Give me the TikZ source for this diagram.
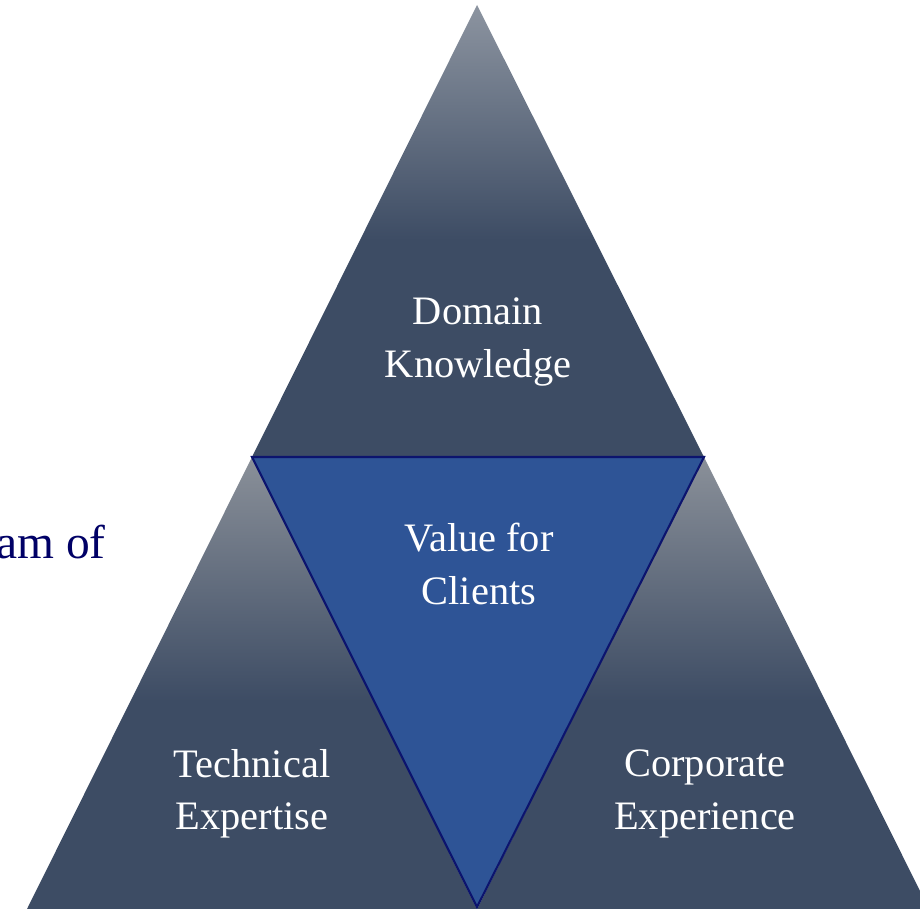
\documentclass[tikz,border=0pt]{standalone}
\usepackage{fontspec}
\setmainfont{Liberation Serif}
\usepackage{tikz}
\usetikzlibrary{calc}

\definecolor{slatedark}{RGB}{61,76,100}
\definecolor{slatelight}{RGB}{140,148,160}
\definecolor{sidelight}{RGB}{138,144,153}
\definecolor{clientblue}{RGB}{46,84,150}
\definecolor{rimnavy}{RGB}{12,20,110}
\definecolor{teamnavy}{RGB}{0,0,102}

\pgfdeclareverticalshading{topfade}{100bp}{color(0bp)=(slatedark); color(49bp)=(slatedark); color(75bp)=(slatelight); color(100bp)=(slatelight)}
\pgfdeclareverticalshading{sidefade}{100bp}{color(0bp)=(slatedark); color(48bp)=(slatedark); color(75bp)=(sidelight); color(100bp)=(sidelight)}

\def\tri[#1](#2)(#3)(#4) {\path[#1] (#2) -- (#3) -- (#4) -- cycle;}

\tikzset{
	label/.style={text=white, align=center, inner sep=0pt, font=\fontsize{23}{29.8}\selectfont},
	team/.style={text=teamnavy, inner sep=0pt, font=\fontsize{27}{32}\selectfont}
}

\begin{document}
\begin{tikzpicture}[x=0.02cm, y=-0.02cm]

	\useasboundingbox (0,0) rectangle (920,909);
	\clip (0,0) rectangle (920,909);

	\coordinate (apex) at (477,5);
	\coordinate (lcorner) at (252,457);
	\coordinate (rcorner) at (704,457);
	\coordinate (bleft) at (27,909);
	\coordinate (bmid) at (477,909);
	\coordinate (bright) at (929,909);
	\coordinate (vtip) at (477,907);

	% side pyramids
	\tri[shading=sidefade](bleft)(bmid)(lcorner)
	\tri[shading=sidefade](bmid)(bright)(rcorner)
	% top pyramid
	\tri[shading=topfade](lcorner)(rcorner)(apex)
	% centre
	\tri[fill=clientblue, draw=rimnavy, line width=1.2pt, line join=miter](lcorner)(rcorner)(vtip)

	\node[team, anchor=base east] (team) at (106,558) {am of};

	\node[label] (domain) at (478,342) {Domain\\Knowledge};
	\node[label] (value) at (479,564) {Value for\\Clients};
	\node[label] (tech) at (252,794) {Technical\\Expertise};
	\node[label] (corp) at (705,794) {Corporate\\Experience};

\end{tikzpicture}
\end{document}
